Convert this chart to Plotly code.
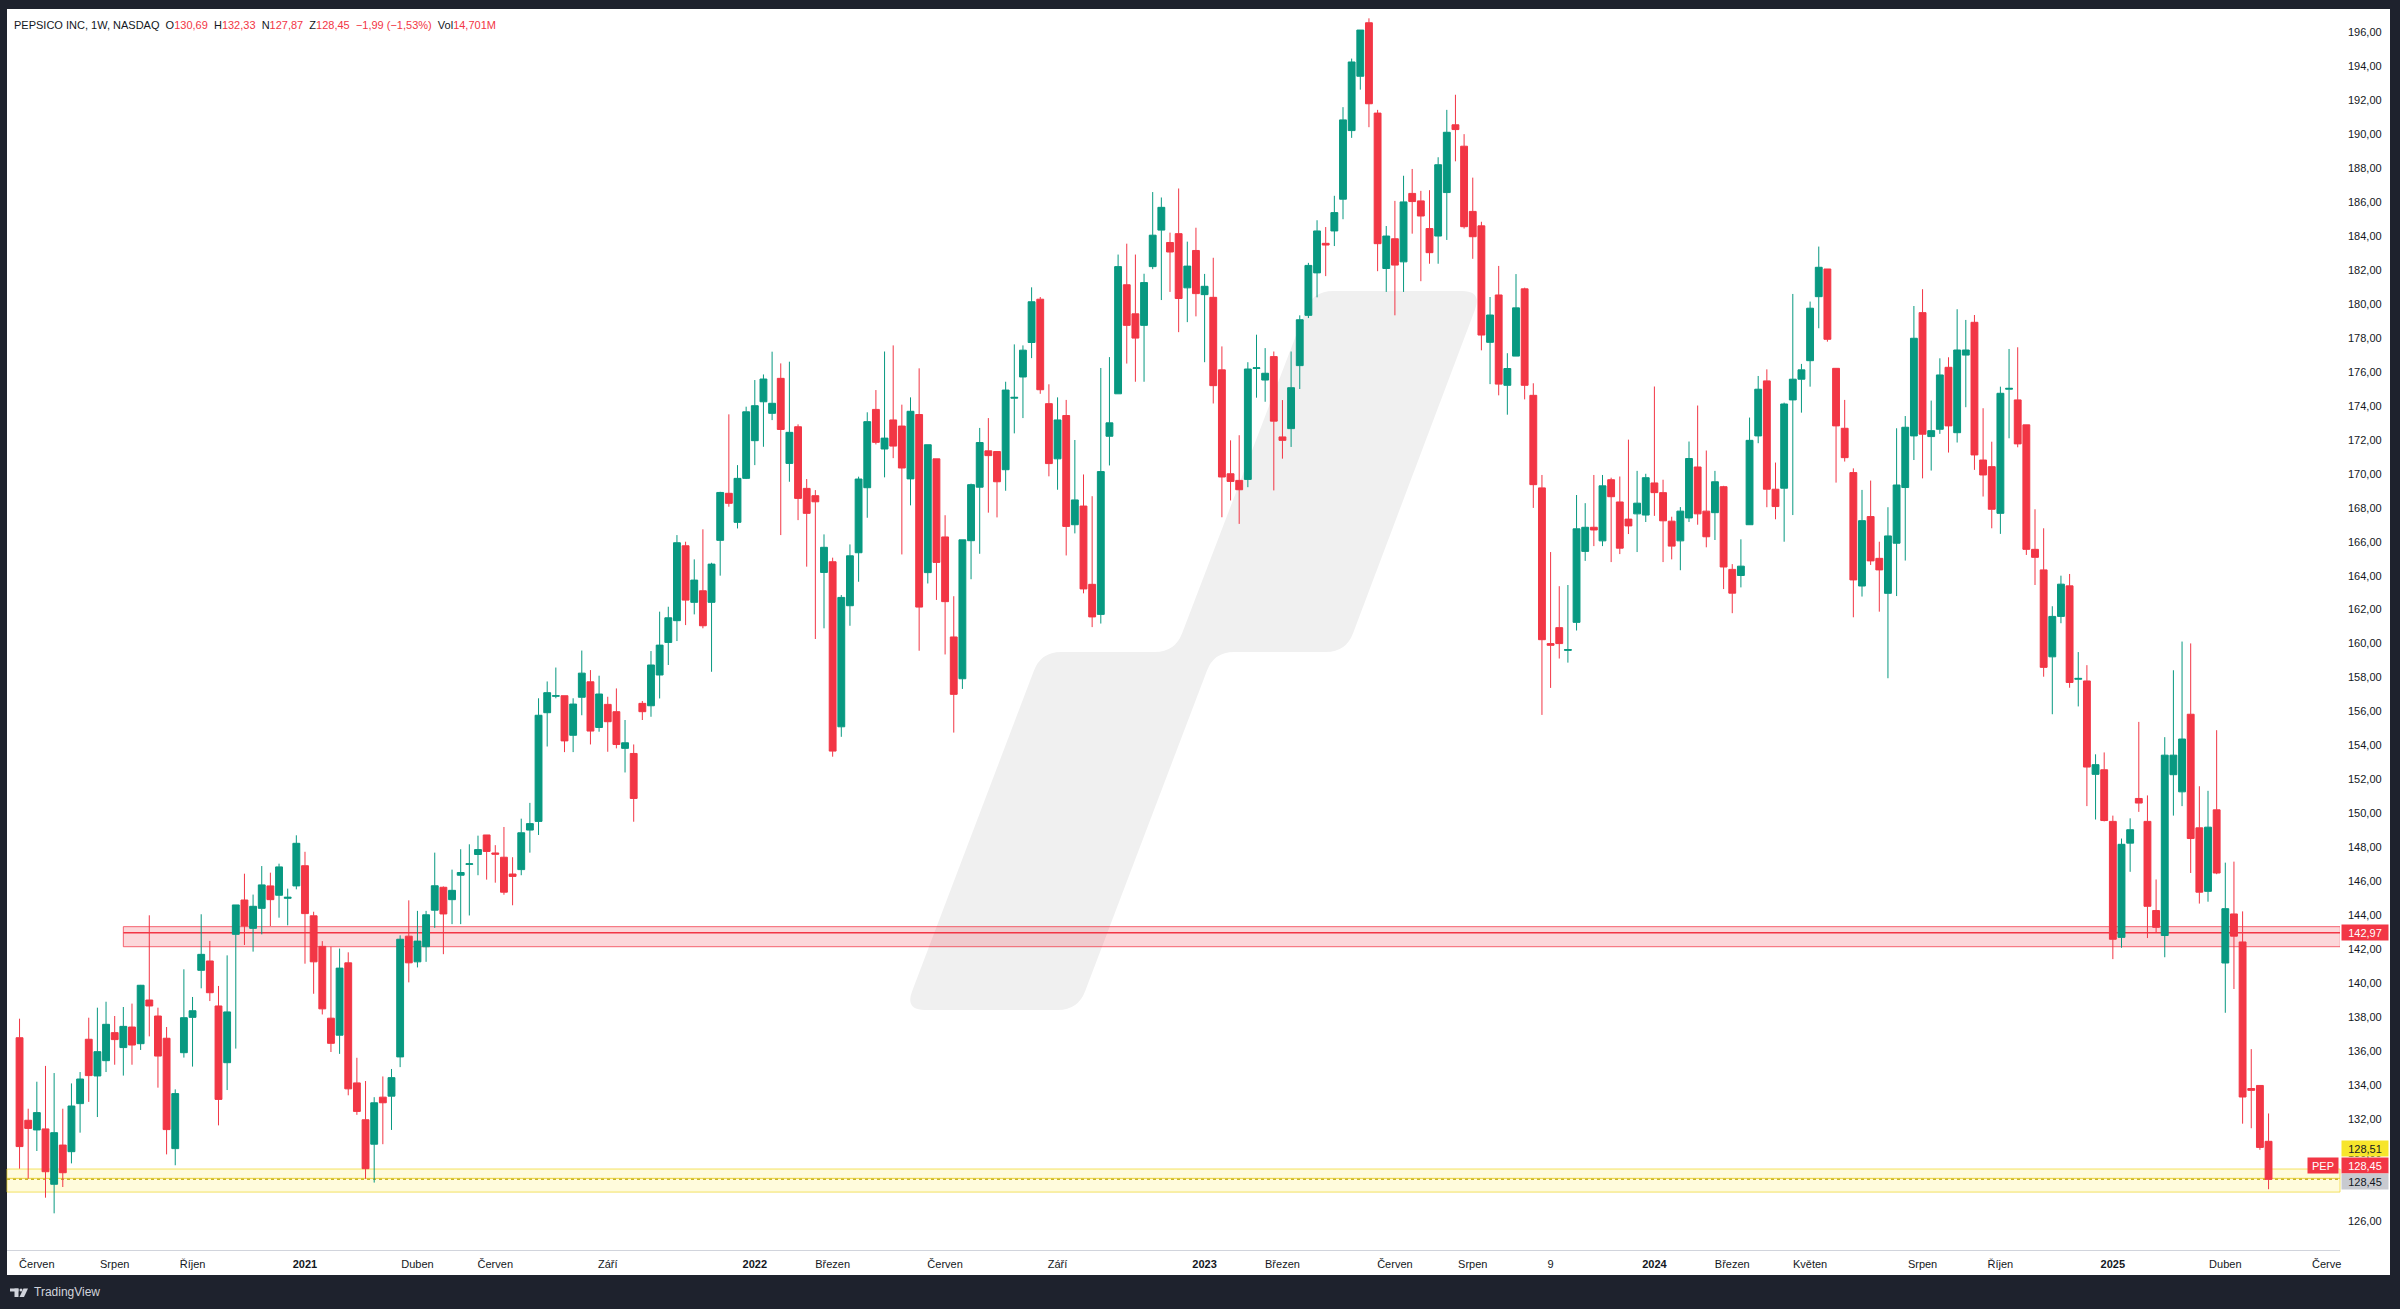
import plotly.graph_objects as go
import pandas as pd

# ---------------- data (weekly candles, PEP, from 2020-05-18) ----------------
start_week = "2020-05-18"
opens = [136.79,131.93,131.36,131.42,128.16,130.47,130.08,132.91,136.70,134.54,135.44,137.09,136.21,137.42,136.44,139.01,138.07,136.76,130.26,135.91,137.99,140.76,141.31,138.66,135.32,142.88,144.90,143.23,144.41,145.73,145.18,145.00,145.73,
146.92,143.97,142.17,137.94,136.94,141.20,134.13,131.96,130.52,133.29,133.35,135.66,142.77,141.26,142.15,144.30,145.65,144.92,146.36,147.00,147.58,148.73,147.67,147.42,146.43,146.69,149.02,149.53,155.93,156.90,156.93,154.60,156.84,
157.75,155.06,156.42,155.99,153.83,153.53,156.48,156.34,158.15,160.07,161.35,165.76,162.43,163.11,162.43,166.08,168.85,167.14,169.73,171.95,174.24,173.56,175.62,170.61,172.77,169.14,168.71,164.19,164.82,155.10,162.23,165.35,169.18,173.79,
171.46,173.17,172.81,169.70,173.49,164.18,170.88,166.28,160.39,157.93,166.06,169.21,171.35,171.31,170.24,174.45,175.70,177.73,180.28,174.13,170.88,173.43,167.00,168.10,163.49,161.72,172.21,174.71,181.13,179.42,178.74,182.20,184.35,183.62,
184.14,180.95,183.15,180.55,180.39,176.12,170.00,169.61,169.67,176.20,175.52,176.90,172.17,172.66,176.37,179.33,181.83,183.57,184.30,186.17,190.21,193.41,196.56,191.24,182.09,183.84,182.48,186.51,186.07,184.44,184.00,186.56,190.55,
189.29,185.45,184.60,177.74,180.53,175.21,176.93,180.89,174.62,169.17,160.00,160.94,159.60,161.25,165.43,166.85,166.05,169.65,168.34,167.33,167.64,167.57,169.46,168.89,167.21,166.05,167.40,170.40,167.80,167.71,169.24,164.37,164.01,167.00,
172.23,175.47,169.09,169.15,174.35,175.57,176.66,180.43,182.06,176.21,172.68,170.07,163.39,167.48,165.02,162.96,165.91,169.19,172.23,179.49,172.19,172.62,176.27,172.42,176.99,178.92,170.81,170.42,167.67,174.98,174.35,172.88,165.55,164.34,
159.22,161.60,163.40,157.90,157.80,152.30,152.57,149.53,142.70,148.25,150.88,149.53,144.28,142.81,152.28,151.27,155.84,149.15,145.41,150.21,141.19,144.08,142.43,133.80,133.98,130.69]
highs = [137.91,132.61,134.20,135.13,134.71,132.61,134.10,134.77,137.97,138.56,138.91,138.07,138.60,138.80,139.90,144.00,138.56,137.42,133.75,140.82,139.19,144.06,142.49,139.84,141.64,144.61,146.45,145.22,146.90,146.51,147.04,145.57,148.71,
147.74,144.21,142.48,142.15,142.04,141.82,135.61,134.24,133.29,134.51,134.95,142.82,144.88,144.26,144.26,147.69,145.70,146.69,147.89,148.18,148.69,148.73,148.13,149.20,147.42,149.69,150.62,156.78,157.77,158.59,156.93,156.78,159.59,
158.44,158.11,156.87,157.36,155.50,154.06,156.62,159.56,161.88,162.17,166.39,166.00,164.96,166.73,164.76,168.94,173.50,170.51,173.95,175.52,175.85,177.19,176.50,176.60,172.91,169.69,169.04,166.43,165.06,162.86,165.84,169.83,173.62,174.93,
177.20,177.56,174.07,174.50,176.21,171.71,170.88,167.56,162.79,166.11,169.42,172.70,173.28,171.31,175.42,177.62,177.56,180.98,180.41,175.27,174.50,174.35,171.99,169.96,168.68,176.23,176.87,182.91,183.55,182.91,181.78,186.59,186.27,184.20,
186.80,183.67,184.49,181.77,182.72,177.50,171.97,172.27,176.57,178.19,177.40,177.20,174.34,177.20,179.33,182.42,184.93,184.53,186.37,191.59,194.45,196.13,196.82,191.43,184.59,186.07,187.55,187.95,186.66,186.70,188.64,191.43,192.32,
190.00,187.44,184.84,180.41,182.24,177.10,181.76,180.96,175.33,169.93,165.39,163.38,163.45,168.75,168.27,169.93,169.93,169.77,169.84,172.01,170.17,170.00,175.14,169.65,167.47,168.04,171.90,174.02,171.37,170.17,169.29,164.68,166.14,173.31,
175.76,176.15,170.66,174.19,180.59,176.47,180.14,183.38,182.06,176.21,174.35,170.32,169.05,169.60,166.00,168.03,172.68,173.40,179.88,180.87,174.31,176.80,176.86,179.69,179.06,179.35,173.86,171.89,175.13,177.35,177.45,172.88,167.91,166.79,
162.20,164.00,164.10,159.50,158.73,153.48,153.59,149.87,148.52,149.71,155.39,151.06,146.11,154.49,158.43,160.12,160.01,151.60,151.33,154.90,147.10,147.16,144.23,136.12,133.98,132.33]
lows = [129.08,128.49,130.12,127.37,126.45,128.00,129.39,131.20,133.01,132.12,134.77,135.20,134.56,135.20,136.07,136.87,133.85,129.92,129.28,135.62,135.09,139.70,138.95,131.63,133.71,136.15,142.25,141.86,142.88,143.37,143.86,143.41,145.53,
141.15,139.38,138.16,135.95,135.84,133.40,132.25,128.48,128.26,130.52,131.36,135.06,140.05,140.93,141.26,143.26,141.71,143.48,143.48,143.99,146.36,146.10,145.92,145.21,144.59,146.36,147.69,148.73,153.94,156.78,153.61,153.61,155.78,
154.06,154.81,153.63,153.83,152.41,149.51,155.50,155.69,156.77,158.74,160.15,161.09,161.72,160.90,158.34,164.00,168.06,166.78,169.69,170.51,171.59,173.16,166.39,169.53,167.27,164.53,160.27,160.90,153.34,154.51,161.05,163.64,167.41,171.73,
169.79,170.92,165.25,168.14,159.58,163.54,162.57,159.36,154.76,157.33,163.79,165.29,167.71,167.43,169.00,172.38,173.28,176.81,174.71,169.85,169.06,165.19,166.49,162.96,160.97,161.18,170.49,174.71,176.49,175.42,175.42,182.05,180.23,180.71,
178.34,178.93,179.27,176.57,174.14,167.44,168.43,167.05,169.21,174.48,174.24,169.02,170.89,171.58,174.99,179.17,180.39,181.64,183.41,184.99,189.78,192.62,190.41,181.93,180.71,179.33,180.71,184.14,181.34,182.37,182.37,183.77,188.40,
184.44,182.66,177.27,175.28,174.62,173.48,176.93,174.38,167.99,155.80,157.39,159.12,158.88,160.77,164.87,165.74,165.74,164.80,165.27,166.45,165.39,167.16,167.52,164.80,164.96,164.32,167.16,167.00,165.67,166.10,163.21,161.79,163.31,167.00,
171.80,168.03,167.32,166.00,167.57,173.60,175.13,178.57,177.78,169.48,170.72,161.55,162.77,164.63,161.88,157.96,162.80,164.89,170.81,169.73,170.19,172.35,171.25,171.84,173.92,170.23,168.66,166.79,166.46,172.09,171.56,165.22,163.45,158.05,
155.84,161.20,157.40,156.30,150.43,149.64,149.53,141.42,142.09,146.56,150.09,142.66,142.99,141.53,149.87,150.43,146.49,144.69,144.80,146.42,138.26,139.66,131.73,131.46,130.19,127.87]
closes = [130.38,131.45,132.38,128.90,131.20,128.84,132.77,134.36,134.56,135.97,137.58,136.68,137.46,136.36,139.88,138.66,135.71,131.38,133.50,137.97,138.38,141.70,139.44,133.16,138.31,144.61,143.37,144.53,145.79,144.92,146.85,145.06,148.24,
144.10,141.26,138.49,136.46,140.89,133.78,132.45,129.08,132.96,132.96,134.44,142.59,141.20,142.48,144.03,145.74,144.08,145.47,146.52,147.03,147.87,147.76,147.60,145.36,146.29,148.86,149.40,155.78,157.11,156.93,154.27,156.44,158.26,
154.85,157.03,155.40,154.06,154.16,150.88,155.99,158.74,159.91,161.52,165.94,162.56,163.74,161.05,164.68,168.90,168.26,169.73,173.65,174.01,175.58,174.15,172.61,172.44,168.55,167.67,168.35,165.67,153.67,162.72,165.17,169.69,173.07,171.85,
172.10,171.63,170.34,173.68,162.15,171.71,164.78,162.47,157.01,166.11,169.36,171.84,171.07,169.53,174.93,174.50,177.28,180.13,174.95,170.60,173.17,166.90,168.46,163.22,161.57,170.13,173.00,182.20,178.74,177.99,181.26,184.05,185.69,183.06,
180.32,182.23,180.61,181.04,175.19,169.81,169.55,169.06,176.17,176.24,175.92,173.10,171.97,175.07,179.07,182.27,184.30,183.47,185.38,190.84,194.25,196.13,191.79,183.55,184.00,182.29,186.01,186.03,185.18,183.02,188.20,190.11,190.27,
184.55,183.96,178.17,179.35,175.28,176.20,179.77,175.21,169.36,160.23,159.90,160.00,159.65,166.76,166.85,166.69,169.29,168.65,165.62,166.93,168.27,169.77,168.89,167.23,165.74,167.80,170.90,167.64,166.29,169.53,164.51,162.97,164.56,171.97,
174.98,169.09,168.07,174.11,175.57,176.12,179.75,182.16,177.92,172.82,170.95,163.75,167.24,164.87,164.34,166.34,169.34,172.74,177.98,172.33,172.54,175.82,172.82,177.29,177.29,171.11,169.93,167.91,174.74,175.03,171.76,165.55,165.08,158.60,
161.60,163.50,157.71,157.95,152.73,152.87,149.58,142.59,148.18,149.04,150.61,144.53,143.29,153.43,153.43,154.38,148.52,145.36,149.19,146.49,144.39,142.77,133.30,133.69,130.33,128.45]

# x-axis month/year labels (week of first bar) and their texts
xtick_dates = ["2020-06-01", "2020-08-03", "2020-10-05", "2021-01-04", "2021-04-05", "2021-06-07",
               "2021-09-06", "2022-01-03", "2022-03-07", "2022-06-06", "2022-09-05", "2023-01-02",
               "2023-03-06", "2023-06-05", "2023-08-07", "2023-10-09", "2024-01-01", "2024-03-04",
               "2024-05-06", "2024-08-05", "2024-10-07", "2025-01-06", "2025-04-07", "2025-06-28"]
xtick_text = ["Červen", "Srpen", "Říjen", "<b>2021</b>", "Duben", "Červen", "Září", "<b>2022</b>",
              "Březen", "Červen", "Září", "<b>2023</b>", "Březen", "Červen", "Srpen", "9",
              "<b>2024</b>", "Březen", "Květen", "Srpen", "Říjen", "<b>2025</b>", "Duben", "Červe"]

# price scale ticks (128,00 sits hidden under the last-price labels)
ytick_vals = [v for v in range(126, 197, 2) if v != 128]
ytick_text = [f"{v},00" for v in ytick_vals]

# drawn levels
resistance_level = 142.97
resistance_zone = (142.15, 143.33)
support_zone = (127.70, 129.06)
support_line = 128.51
last_price = 128.45

header_values = {"O": "130,69", "H": "132,33", "N": "127,87", "Z": "128,45"}
header_change = "−1,99 (−1,53%)"
header_vol = "14,701M"

# ---------------- figure ----------------
W, H = 2400, 1309
PL, PR, PT, PB = 7, 2340, 9, 1250  # plot area in pixels
UP, DN = "#089981", "#F23645"
FONT = "Arial, Liberation Sans, sans-serif"

dates = pd.date_range(start_week, periods=len(opens), freq="7D")
base = pd.Timestamp("2021-01-04")


def wk(w):
    return base + pd.Timedelta(days=7 * w)


def px(x, y):
    return (x - PL) / (PR - PL), (PB - y) / (PB - PT)


def rounded_path(pts, r):
    """closed path with rounded corners, pts in pixels -> paper coords"""
    n = len(pts)
    segs = []
    for i in range(n):
        p0, p1, p2 = pts[i - 1], pts[i], pts[(i + 1) % n]
        d1 = ((p0[0] - p1[0]) ** 2 + (p0[1] - p1[1]) ** 2) ** 0.5
        d2 = ((p2[0] - p1[0]) ** 2 + (p2[1] - p1[1]) ** 2) ** 0.5
        rr = min(r, d1 / 2, d2 / 2)
        a = (p1[0] + (p0[0] - p1[0]) * rr / d1, p1[1] + (p0[1] - p1[1]) * rr / d1)
        b = (p1[0] + (p2[0] - p1[0]) * rr / d2, p1[1] + (p2[1] - p1[1]) * rr / d2)
        segs.append((a, p1, b))
    f = lambda q: "{:.5f},{:.5f}".format(*px(*q))
    s = "M " + f(segs[0][0])
    for i, (a, c, b) in enumerate(segs):
        if i > 0:
            s += " L " + f(a)
        s += " Q " + f(c) + " " + f(b)
    return s + " Z"


fig = go.Figure()
fig.add_trace(go.Candlestick(
    x=dates, open=opens, high=highs, low=lows, close=closes,
    increasing=dict(line=dict(color=UP, width=1), fillcolor=UP),
    decreasing=dict(line=dict(color=DN, width=1), fillcolor=DN),
    whiskerwidth=0, showlegend=False, hoverinfo="skip",
))

shapes = []
# white chart frame (plot + scales)
fx0, fy0 = px(PL, 1275)
fx1, fy1 = px(2390, PT)
shapes.append(dict(type="rect", xref="paper", yref="paper", x0=fx0, x1=fx1, y0=fy0, y1=fy1,
                   fillcolor="white", line=dict(width=0), layer="below"))
# watermark
wm = [(1313, 291), (1482, 291), (1346, 652), (1214, 652), (1078, 1010), (905, 1010), (1041, 652), (1175, 652)]
shapes.append(dict(type="path", xref="paper", yref="paper", path=rounded_path(wm, 20),
                   fillcolor="#f0f0f0", line=dict(width=0), layer="below"))
# resistance zone
shapes.append(dict(type="rect", xref="x", yref="y", x0=wk(-21.0), x1=wk(235.3),
                   y0=resistance_zone[0], y1=resistance_zone[1],
                   fillcolor="rgba(242,54,69,0.2)", line=dict(color="rgba(242,54,69,0.75)", width=1),
                   layer="below"))
shapes.append(dict(type="line", xref="x", yref="y", x0=wk(-21.0), x1=wk(235.3),
                   y0=resistance_level, y1=resistance_level, line=dict(color=DN, width=1.5), layer="below"))
# support zone
shapes.append(dict(type="rect", xref="paper", yref="y", x0=0, x1=1,
                   y0=support_zone[0], y1=support_zone[1],
                   fillcolor="rgba(255,235,59,0.18)", line=dict(color="rgba(240,215,40,0.7)", width=1),
                   layer="below"))
shapes.append(dict(type="line", xref="paper", yref="y", x0=0, x1=1,
                   y0=support_line, y1=support_line, line=dict(color="#ecd43a", width=1), layer="below"))
shapes.append(dict(type="line", xref="paper", yref="y", x0=0, x1=1,
                   y0=last_price, y1=last_price, line=dict(color="#c9b52a", width=1.5, dash="dot"),
                   layer="below"))
# TradingView logo (footer)
for rect in [((10, 1288.5), (18.5, 1291.5)), ((14.5, 1288.5), (18.5, 1297))]:
    (a0, b0), (a1, b1) = rect
    xa, ya = px(a0, b1)
    xb, yb = px(a1, b0)
    shapes.append(dict(type="rect", xref="paper", yref="paper", x0=xa, x1=xb, y0=ya, y1=yb,
                       fillcolor="#d1d4dc", line=dict(width=0)))
cx0, cy0 = px(19.5, 1291.5)
cx1, cy1 = px(22.5, 1288.5)
shapes.append(dict(type="circle", xref="paper", yref="paper", x0=cx0, x1=cx1, y0=cy0, y1=cy1,
                   fillcolor="#d1d4dc", line=dict(width=0)))
logo_v = [(23.5, 1288.5), (28, 1288.5), (24, 1297), (19.5, 1297)]
shapes.append(dict(type="path", xref="paper", yref="paper",
                   path="M " + " L ".join(f"{px(a, b)[0]:.5f},{px(a, b)[1]:.5f}" for a, b in logo_v) + " Z",
                   fillcolor="#d1d4dc", line=dict(width=0)))

annotations = []
red_span = "<span style='color:#F23645'>{}</span>"
hdr = ("PEPSICO INC, 1W, NASDAQ&nbsp;&nbsp;"
       + "&nbsp;&nbsp;".join(k + red_span.format(v) for k, v in header_values.items())
       + "&nbsp;&nbsp;" + red_span.format(header_change)
       + "&nbsp;&nbsp;Vol" + red_span.format(header_vol))
hx, hy = px(12, 25)
annotations.append(dict(xref="paper", yref="paper", x=hx, y=hy, xanchor="left", yanchor="middle",
                        text=hdr, showarrow=False, font=dict(family=FONT, size=11, color="#131722")))
fxx, fyy = px(32, 1292)
annotations.append(dict(xref="paper", yref="paper", x=fxx, y=fyy, xanchor="left", yanchor="middle",
                        text="TradingView", showarrow=False, font=dict(family=FONT, size=12, color="#d1d4dc")))

axl = px(2341, 0)[0]
axr = px(2339, 0)[0]
price_labels = [
    (resistance_level, f"{resistance_level:.2f}".replace(".", ","), DN, "white"),
    (130.24, f"{support_line:.2f}".replace(".", ","), "#f7e52b", "#131722"),
    (129.26, f"{last_price:.2f}".replace(".", ","), DN, "white"),
    (128.35, f"{last_price:.2f}".replace(".", ","), "#c8cad0", "#131722"),
]
for yv, txt, bg, fc in price_labels:
    annotations.append(dict(xref="paper", yref="y", x=axl, y=yv, xanchor="left", yanchor="middle",
                            text=txt, showarrow=False, bgcolor=bg, width=44, height=13, borderpad=1,
                            font=dict(family=FONT, size=11, color=fc)))
annotations.append(dict(xref="paper", yref="y", x=axr, y=129.26, xanchor="right", yanchor="middle",
                        text="PEP", showarrow=False, bgcolor=DN, width=28, height=13, borderpad=1,
                        font=dict(family=FONT, size=11, color="white")))

fig.update_layout(
    width=W, height=H, autosize=False,
    margin=dict(l=PL, r=W - PR, t=PT, b=H - PB),
    paper_bgcolor="#1e222d", plot_bgcolor="white",
    boxgap=0.12, boxgroupgap=0.1,
    showlegend=False,
    shapes=shapes, annotations=annotations,
    font=dict(family=FONT, size=11, color="#131722"),
    xaxis=dict(type="date", range=[wk(-34.45), wk(235.26)], rangeslider=dict(visible=False),
               showgrid=False, zeroline=False, tickmode="array", tickvals=xtick_dates, ticktext=xtick_text,
               ticks="", tickfont=dict(family=FONT, size=11, color="#131722"),
               showline=True, linecolor="#d1d4dc", linewidth=1, ticklabelstandoff=4),
    yaxis=dict(side="right", range=[124.29, 197.37], showgrid=False, zeroline=False,
               tickmode="array", tickvals=ytick_vals, ticktext=ytick_text, ticks="",
               tickfont=dict(family=FONT, size=11, color="#131722"), ticklabelstandoff=7),
)

fig.write_html("out.html", config={"displayModeBar": False},
               post_script="document.body.style.margin='0';document.body.style.background='#1e222d';")
